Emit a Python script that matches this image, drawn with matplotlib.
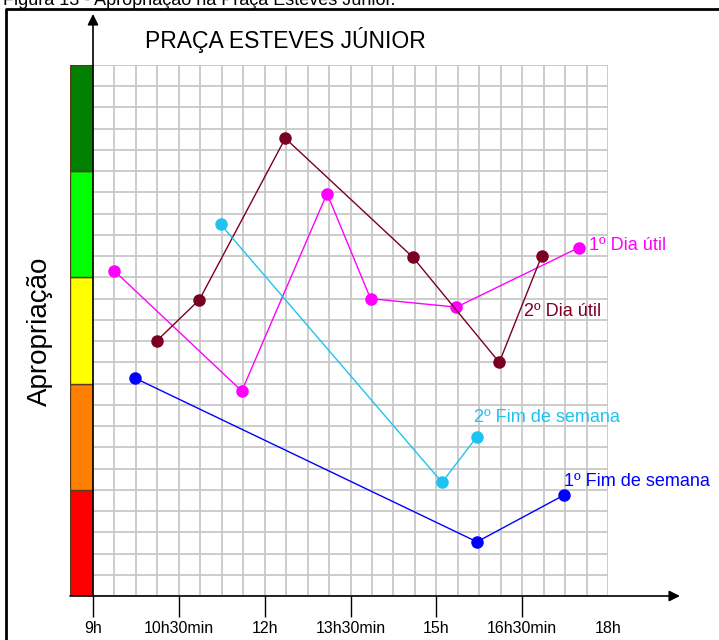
import numpy as np
import matplotlib
matplotlib.use('Agg')
import matplotlib.pyplot as plt
from matplotlib.patches import FancyArrowPatch

plt.rcParams['font.family'] = ['Liberation Sans', 'DejaVu Sans']

# horario (horas decimais) e nivel de apropriacao (0 a 5)
dia1_h = [9.375, 11.60, 13.09, 13.85, 15.35, 17.49]
dia1_v = [3.06, 1.93, 3.79, 2.80, 2.72, 3.28]
dia2_h = [10.11, 10.86, 12.36, 14.59, 16.10, 16.84]
dia2_v = [2.40, 2.79, 4.31, 3.19, 2.20, 3.20]
fim2_h = [11.23, 15.10, 15.71]
fim2_v = [3.50, 1.07, 1.50]
fim1_h = [9.74, 15.71, 17.23]
fim1_v = [2.05, 0.51, 0.95]

hora_ticks = [9, 10.5, 12, 13.5, 15, 16.5, 18]
hora_labels = ['9h', '10h30min', '12h', '13h30min', '15h', '16h30min', '18h']
faixas = ['#ff0000', '#ff8000', '#ffff00', '#00ff00', '#007f00']

W, H = 719, 640
fig = plt.figure(figsize=(W / 100, H / 100), dpi=100)

ax = fig.add_axes([93 / W, 1 - 596 / H, 515 / W, 531 / H])
ax.set_xlim(9, 18)
ax.set_ylim(0, 5)
for s in ax.spines.values():
    s.set_visible(False)

# quadriculado
ax.xaxis.remove_overlapping_locs = False
ax.set_xticks(np.arange(9, 18.001, 0.375), minor=True)
ax.set_yticks(np.arange(0, 5.001, 0.2), minor=True)
ax.set_yticks([])
ax.grid(which='minor', color='#c8c8c8', lw=1.3)
ax.tick_params(which='minor', length=0)
ax.set_axisbelow(True)

ax.set_xticks(hora_ticks)
ax.set_xticklabels(hora_labels, fontsize=11.5)
ax.tick_params(axis='x', which='major', length=15, width=1, pad=3)
ax.xaxis.get_major_ticks()[-1].tick1line.set_visible(False)

# series
ax.plot(dia1_h, dia1_v, '-o', color='#ff00ff', lw=1, ms=8, clip_on=False)
ax.plot(dia2_h, dia2_v, '-o', color='#7a0022', lw=1, ms=8, clip_on=False)
ax.plot(fim2_h, fim2_v, '-o', color='#1ec3f0', lw=1, ms=8, clip_on=False)
ax.plot(fim1_h, fim1_v, '-o', color='#0000ff', lw=1, ms=8, clip_on=False)

ax.text(17.67, 3.30, '1º Dia útil', color='#ff00ff', fontsize=13, va='center', clip_on=False)
ax.text(16.53, 2.68, '2º Dia útil', color='#7a0022', fontsize=13, va='center', clip_on=False)
ax.text(15.66, 1.685, '2º Fim de semana', color='#1ec3f0', fontsize=13, va='center', clip_on=False)
ax.text(17.23, 1.08, '1º Fim de semana', color='#0000ff', fontsize=13, va='center', clip_on=False)

# barra de cores
cb = fig.add_axes([70 / W, 1 - 596 / H, 23 / W, 531 / H])
for i, c in enumerate(faixas):
    cb.bar(0, 1, bottom=i, width=1, color=c, edgecolor='#5a3a1a', lw=1)
cb.set_xlim(-0.5, 0.5)
cb.set_ylim(0, 5)
cb.axis('off')

# eixos com setas
fig.add_artist(FancyArrowPatch((70 / W, 1 - 596 / H), (680 / W, 1 - 596 / H),
                               transform=fig.transFigure, arrowstyle='-|>',
                               mutation_scale=16, color='black', lw=1.2,
                               shrinkA=0, shrinkB=0))
fig.add_artist(FancyArrowPatch((93 / W, 1 - 596 / H), (93 / W, 1 - 14 / H),
                               transform=fig.transFigure, arrowstyle='-|>',
                               mutation_scale=16, color='black', lw=1.2,
                               shrinkA=0, shrinkB=0))

# moldura
fig.add_artist(plt.Line2D([6 / W, 6 / W, 1], [0, 1 - 9 / H, 1 - 9 / H],
                          color='black', lw=2, transform=fig.transFigure))

fig.text(3 / W, 1 - 5 / H, 'Figura 13 - Apropriação na Praça Esteves Júnior.',
         fontsize=13, va='baseline')
fig.text(145 / W, 1 - 40 / H, 'PRAÇA ESTEVES JÚNIOR', fontsize=16.5, va='center')
fig.text(40 / W, 1 - 331 / H, 'Apropriação', fontsize=20, rotation=90,
         ha='center', va='center')

fig.savefig('out.png', dpi=100)
